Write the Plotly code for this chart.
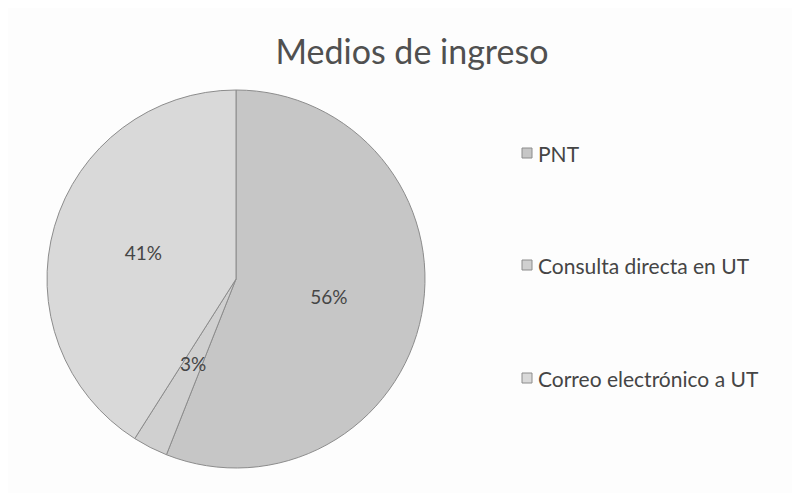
import math
import plotly.graph_objects as go

title = "Medios de ingreso"
labels = ["PNT", "Consulta directa en UT", "Correo electrónico a UT"]
values = [56, 3, 41]
colors = ["#c6c6c6", "#d0d0d0", "#d9d9d9"]

W, H = 800, 493
OFF = 8  # page body margin offset
FONT = "Lato, Open Sans, sans-serif"
TXT = "#454545"


def px(x):
    return (x - OFF) / W


def py(y):
    return 1 - (y - OFF) / H


# pie geometry (screen pixels)
CX, CY, R = 236, 279, 189
total = sum(values)
small = [v / total < 0.05 for v in values]
texts = ["" if s else f"{round(100 * v / total)}%" for v, s in zip(values, small)]

fig = go.Figure()
fig.add_trace(go.Pie(
    labels=labels, values=values, sort=False, direction="clockwise", rotation=0,
    marker=dict(colors=colors, line=dict(color="#8c8c8c", width=1)),
    text=texts, texttemplate="%{text}", textposition="inside",
    insidetextorientation="horizontal",
    textfont=dict(family=FONT, size=19, color=TXT),
    domain=dict(x=[px(CX - R), px(CX + R)], y=[py(CY + R), py(CY - R)]),
    showlegend=False, hoverinfo="label+percent",
))

# label for small slices, placed at half radius along the slice's mid angle
cum = 0
for v, s in zip(values, small):
    mid = (cum + v / 2) / total * 2 * math.pi
    cum += v
    if s:
        lx = CX + 0.5 * R * math.sin(mid)
        ly = CY - 0.5 * R * math.cos(mid)
        fig.add_annotation(text=f"{round(100 * v / total)}%", xref="paper", yref="paper",
                           x=px(lx), y=py(ly), showarrow=False,
                           xanchor="center", yanchor="middle",
                           font=dict(family=FONT, size=19, color=TXT))

# legend built from the labels/colors lists
leg_y = [153, 265, 378]
for lab, col, y in zip(labels, colors, leg_y):
    fig.add_shape(type="rect", xref="paper", yref="paper",
                  x0=px(522), x1=px(532), y0=py(y + 5), y1=py(y - 5),
                  fillcolor=col, line=dict(color="#8c8c8c", width=1))
    fig.add_annotation(text=lab, xref="paper", yref="paper", x=px(536), y=py(y),
                       xanchor="left", yanchor="middle", showarrow=False,
                       font=dict(family=FONT, size=21, color=TXT))

fig.update_layout(
    width=W, height=H,
    margin=dict(l=0, r=0, t=0, b=0),
    paper_bgcolor="#fdfdfd", plot_bgcolor="#fdfdfd",
    title=dict(text=title, x=px(412), xanchor="center", y=py(52), yanchor="middle",
               font=dict(family=FONT, size=34, color="#505050")),
)
fig.write_html("out.html")
